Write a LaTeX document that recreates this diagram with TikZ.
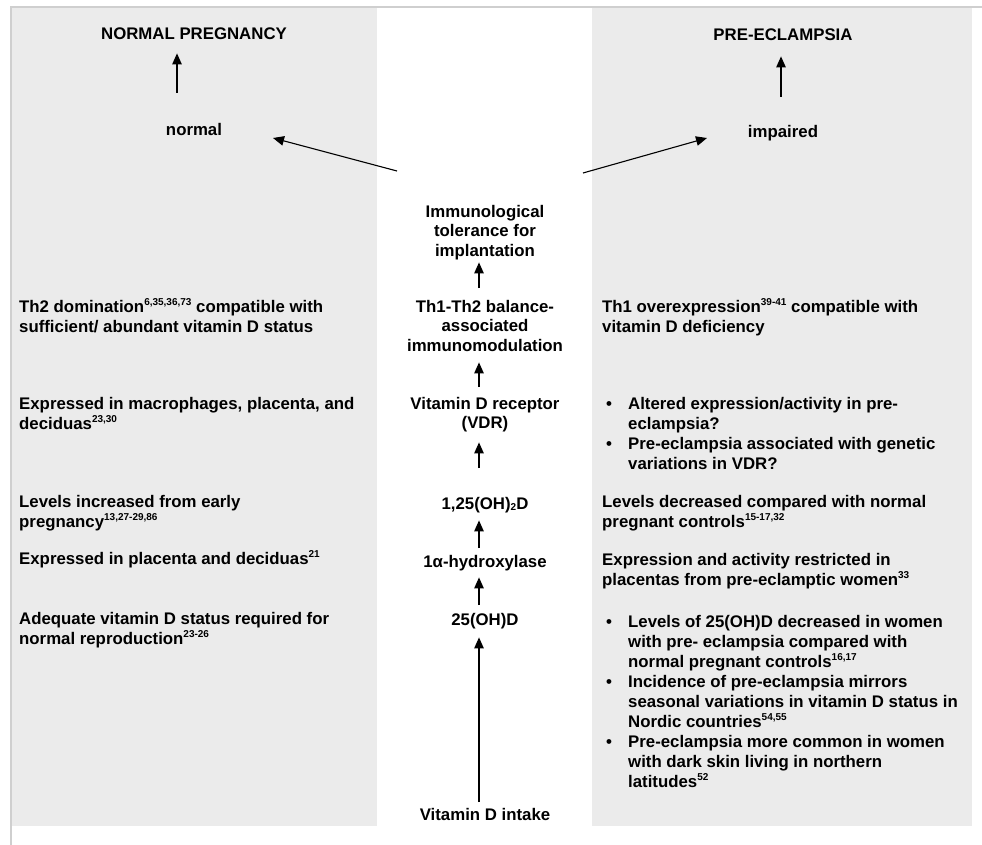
\documentclass[tikz,border=0pt]{standalone}
\usepackage{fontspec}
\setmainfont{Liberation Sans}
\usetikzlibrary{arrows.meta,calc}
\definecolor{panel}{HTML}{EBEBEB}
\definecolor{frame}{HTML}{CFCFCF}
\newcommand{\sups}[1]{\raisebox{6.5pt}{\fontsize{10}{10}\selectfont #1}}
\newcommand{\fst}{\rule{0pt}{15pt}}
\newcommand{\lst}{\rule[-4pt]{0pt}{4pt}}
\newcommand{\bul}{\makebox[23pt][l]{\hspace{1pt}•}}
\newcommand{\ind}{\hspace*{23pt}}
\begin{document}
\begin{tikzpicture}[x=1pt,y=-1pt,
  txt/.style={font=\fontsize{16.8}{20}\selectfont\bfseries, inner sep=0pt, align=left, anchor=north west},
  ctr/.style={font=\fontsize{16.8}{19.5}\selectfont\bfseries, inner sep=0pt, align=center, anchor=north},
  arr/.style={line width=1.1pt, -{Triangle[length=11pt,width=9.5pt]}},
]
\useasboundingbox (0,0) rectangle (982,845);
% panels and frame
\fill[panel] (12,8) rectangle (377,826);
\fill[panel] (592,8) rectangle (972,826);
\draw[frame, line width=1.5pt] (10,7) -- (982,7);
\draw[frame, line width=1.5pt] (11,7) -- (11,845);

% headings
\node[ctr] (np) at (194,24) {\fst NORMAL PREGNANCY\lst};
\node[ctr] (normal) at (194,120) {\fst normal\lst};
\node[ctr] (pe) at (783,25) {\fst PRE-ECLAMPSIA\lst};
\node[ctr] (impaired) at (783,122) {\fst impaired\lst};

% left column
\node[txt] (l1) at (19,297) {\fst Th2 domination\sups{6,35,36,73} compatible with\\ sufficient/ abundant vitamin D status};
\node[txt] (l2) at (19,394) {\fst Expressed in macrophages, placenta, and\\ deciduas\sups{23,30}};
\node[txt] (l3) at (19,492) {\fst Levels increased from early\\ pregnancy\sups{13,27-29,86}};
\node[txt] (l4) at (19,549) {\fst Expressed in placenta and deciduas\sups{21}};
\node[txt] (l5) at (19,609) {\fst Adequate vitamin D status required for\\ normal reproduction\sups{23-26}};

% right column
\node[txt] (r1) at (602,297) {\fst Th1 overexpression\sups{39-41} compatible with\\ vitamin D deficiency};
\node[txt] (r2) at (605,394) {\fst\bul Altered expression/activity in pre-\\ \ind eclampsia?\\ \bul Pre-eclampsia associated with genetic\\ \ind variations in VDR?};
\node[txt] (r3) at (602,492) {\fst Levels decreased compared with normal\\ pregnant controls\sups{15-17,32}};
\node[txt] (r4) at (602,550) {\fst Expression and activity restricted in\\ placentas from pre-eclamptic women\sups{33}};
\node[txt] (r5) at (605,612) {\fst\bul Levels of 25(OH)D decreased in women\\ \ind with pre- eclampsia compared with\\ \ind normal pregnant controls\sups{16,17}\\ \bul Incidence of pre-eclampsia mirrors\\ \ind seasonal variations in vitamin D status in\\ \ind Nordic countries\sups{54,55}\\ \bul Pre-eclampsia more common in women\\ \ind with dark skin living in northern\\ \ind latitudes\sups{52}};

% center column
\node[ctr] (c1) at (485,202) {\fst Immunological\\ tolerance for\\ implantation\lst};
\node[ctr] (c2) at (485,297) {\fst Th1-Th2 balance-\\ associated\\ immunomodulation\lst};
\node[ctr] (c3) at (485,394) {\fst Vitamin D receptor\\ (VDR)\lst};
\node[ctr] (c4) at (485,494) {\fst 1,25(OH)\raisebox{-1.5pt}{\fontsize{10}{10}\selectfont 2}D\lst};
\node[ctr] (c5) at (485,552) {\fst 1α-hydroxylase\lst};
\node[ctr] (c6) at (485,610) {\fst 25(OH)D\lst};
\node[ctr] (c7) at (485,805) {\fst Vitamin D intake\lst};

% center arrows
\draw[arr, shorten <=9pt, shorten >=2pt] ([xshift=-6pt]c2.north) -- ([xshift=-6pt]c1.south);
\draw[arr, shorten <=7pt, shorten >=7pt] ([xshift=-6pt]c3.north) -- ([xshift=-6pt]c2.south);
\draw[arr, shorten <=26pt, shorten >=9.5pt] ([xshift=-6pt]c4.north) -- ([xshift=-6pt]c3.south);
\draw[arr, shorten <=4pt, shorten >=7pt] ([xshift=-6pt]c5.north) -- ([xshift=-6pt]c4.south);
\draw[arr, shorten <=5pt, shorten >=6pt] ([xshift=-6pt]c6.north) -- ([xshift=-6pt]c5.south);
\draw[arr, shorten <=3pt, shorten >=8pt] ([xshift=-6pt]c7.north) -- ([xshift=-6pt]c6.south);

% heading arrows
\draw[arr, shorten <=27pt, shorten >=10pt] ([xshift=-17pt]normal.north) -- ([xshift=-17pt]np.south);
\draw[arr, shorten <=25pt, shorten >=12pt] ([xshift=-2pt]impaired.north) -- ([xshift=-2pt]pe.south);

% diagonal arrows
\coordinate (ls) at (397,171);
\coordinate (lt) at (273,138);
\coordinate (rs) at (583,173);
\coordinate (rt) at (707,138);
\draw[arr] (ls) -- (lt);
\draw[arr] (rs) -- (rt);
\end{tikzpicture}
\end{document}
